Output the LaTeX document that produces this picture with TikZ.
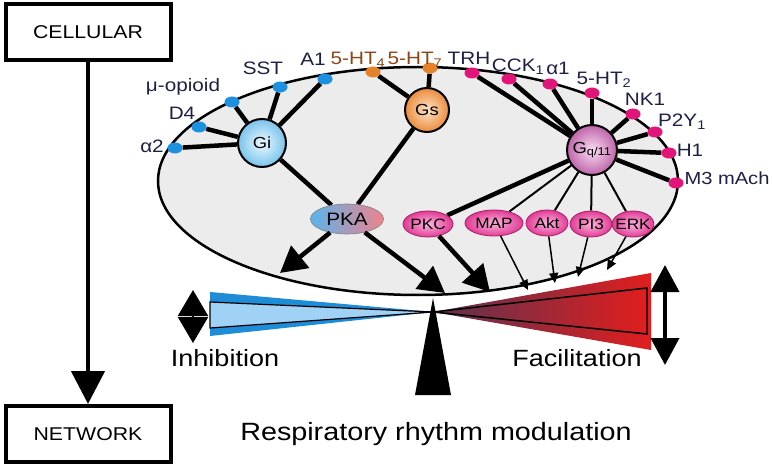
\documentclass[tikz,border=0pt]{standalone}
\usepackage{fontspec}
\setmainfont[FakeStretch=1.15]{Liberation Sans}
\usetikzlibrary{shapes.geometric,arrows.meta,backgrounds}

\definecolor{navy}{RGB}{30,30,70}
\definecolor{brownlab}{RGB}{140,70,20}
\definecolor{dotblue}{RGB}{30,144,224}
\definecolor{dotorange}{RGB}{230,130,40}
\definecolor{dotpink}{RGB}{225,20,120}
\definecolor{cellgray}{RGB}{236,236,236}
\definecolor{giblue}{RGB}{120,195,235}
\definecolor{gilight}{RGB}{238,249,255}
\definecolor{gsorange}{RGB}{235,140,60}
\definecolor{gslight}{RGB}{253,228,200}
\definecolor{gqpurple}{RGB}{190,100,170}
\definecolor{gqlight}{RGB}{250,222,242}
\definecolor{enzout}{RGB}{225,60,150}
\definecolor{enzin}{RGB}{250,180,218}
\definecolor{enzline}{RGB}{170,30,100}
\definecolor{pkablue}{RGB}{90,180,235}
\definecolor{pkapink}{RGB}{240,130,140}
\definecolor{inhdark}{RGB}{30,140,215}
\definecolor{inhlight}{RGB}{160,210,245}
\definecolor{facdark}{RGB}{90,50,80}
\definecolor{facred}{RGB}{225,30,30}

\begin{document}
\begin{tikzpicture}[x=1pt,y=-1pt,
    box/.style={draw,line width=4pt,minimum width=165pt,minimum height=56pt,inner sep=0pt,font=\fontsize{18.5}{20}\selectfont},
    rdot/.style={ellipse,minimum width=15pt,minimum height=11pt,inner sep=0pt},
    bdot/.style={rdot,fill=dotblue},
    odot/.style={rdot,fill=dotorange},
    pdot/.style={rdot,fill=dotpink},
    lab/.style={anchor=base,inner sep=0pt,text=navy,font=\fontsize{18}{20}\selectfont},
    gprot/.style={circle,draw,line width=2pt,inner sep=0pt,font=\fontsize{16}{18}\selectfont},
    enz/.style={ellipse,draw=enzline,line width=0.8pt,inner xsep=-3pt,inner ysep=0pt,minimum height=26pt,
      inner color=enzin,outer color=enzout,font=\fontsize{15}{16}\selectfont},
    bond/.style={line width=4.5pt},
    slimbond/.style={line width=2pt},
    bigarrow/.style={line width=4.5pt,-{Triangle[length=26pt,width=28pt]}},
    smallarrow/.style={line width=1.5pt,-{Triangle[length=10pt,width=9pt]}},
    tag/.style={anchor=base,inner sep=0pt,font=\fontsize{23.5}{26}\selectfont}
  ]
  \useasboundingbox (0,0) rectangle (772,468);

  \node[box] (cell) at (88,32) {CELLULAR};
  \node[box] (net) at (88,434) {NETWORK};
  \draw[line width=4.5pt,-{Triangle[length=33pt,width=33pt]}] (cell) -- (net);

  \node[bdot] (a2) at (175,148) {};
  \node[bdot] (d4) at (199,127) {};
  \node[bdot] (mu) at (232,102) {};
  \node[bdot] (sst) at (280,87) {};
  \node[bdot] (aone) at (325,79) {};
  \node[odot] (htfour) at (373,72) {};
  \node[odot] (htseven) at (430,68) {};
  \node[pdot] (trh) at (472,73) {};
  \node[pdot] (cck) at (509,79) {};
  \node[pdot] (alone) at (550,84) {};
  \node[pdot] (httwo) at (592,93) {};
  \node[pdot] (nkone) at (633,114) {};
  \node[pdot] (ptwoy) at (655,132) {};
  \node[pdot] (hone) at (669,153) {};
  \node[pdot] (mthree) at (676,183) {};

  \node[lab] (a2lab) at (152,153) {α2};
  \node[lab] (d4lab) at (182,120) {D4};
  \node[lab] (mulab) at (183,92) {μ-opioid};
  \node[lab] (sstlab) at (263,75) {SST};
  \node[lab] (aonelab) at (313,66) {A1};
  \node[lab,text=brownlab] (htfourlab) at (358,65) {5-HT\textsubscript{4}};
  \node[lab,text=brownlab] (htsevenlab) at (415,65) {5-HT\textsubscript{7}};
  \node[lab] (trhlab) at (469,65) {TRH};
  \node[lab] (ccklab) at (518,72) {CCK\textsubscript{1}};
  \node[lab] (alonelab) at (558,75) {α1};
  \node[lab] (httwolab) at (604,85) {5-HT\textsubscript{2}};
  \node[lab] (nkonelab) at (645,106) {NK1};
  \node[lab] (ptwoylab) at (682,127) {P2Y\textsubscript{1}};
  \node[lab] (honelab) at (690,157) {H1};
  \node[lab,font=\fontsize{17.5}{20}\selectfont] (mthreelab) at (727,185) {M3 mAch};

  \node[gprot,minimum size=48pt,inner color=gilight,outer color=giblue] (gi) at (262,143) {Gi};
  \node[gprot,minimum size=44pt,inner color=gslight,outer color=gsorange] (gs) at (427,110) {Gs};
  \node[gprot,minimum size=50pt,inner color=gqlight,outer color=gqpurple] (gq) at (592,150) {G\textsubscript{q/11}};

  \node[ellipse,draw=gray,line width=0.6pt,minimum width=73pt,minimum height=30pt,inner sep=0pt,
    left color=pkablue,right color=pkapink,font=\fontsize{18}{20}\selectfont] (pka) at (347,219) {PKA};
  \node[enz,minimum width=50pt] (pkc) at (428,224) {PKC};
  \node[enz,minimum width=58pt] (map) at (494,223) {MAP};
  \node[enz,minimum width=42pt] (akt) at (547,223) {Akt};
  \node[enz,minimum width=42pt] (pithree) at (591,224) {PI3};
  \node[enz,minimum width=40pt] (erk) at (633,224) {ERK};

  \begin{pgfonlayer}{background}
    \draw[line width=2.5pt,fill=cellgray] (418,181) ellipse [x radius=260pt,y radius=114pt];
    \path[bond]
    (gi) edge (a2) edge (d4) edge (mu) edge (sst) edge (aone) edge (pka)
    (gs) edge (htfour) edge (htseven) edge (pka)
    (gq) edge (trh) edge (cck) edge (alone) edge (httwo) edge (nkone)
         edge (ptwoy) edge (hone) edge (mthree) edge (pkc);
    \path[slimbond] (gq) edge (map) edge (akt) edge (pithree) edge (erk);
  \end{pgfonlayer}

  \coordinate (inhtip) at (280,273);
  \coordinate (midtip) at (445,293);
  \coordinate (pkctip) at (490,292);
  \coordinate (maptip) at (528,290);
  \coordinate (akttip) at (555,283);
  \coordinate (pitip) at (578,277);
  \coordinate (erktip) at (607,270);
  \path[bigarrow] (pka) edge (inhtip) (pka) edge (midtip) (pkc) edge (pkctip);
  \path[smallarrow] (map) edge (maptip) (akt) edge (akttip)
    (pithree) edge (pitip) (erk) edge (erktip);

  \coordinate (pivot) at (433,312);
  \fill[inhdark] (210,292) -- (pivot) -- (210,336) -- cycle;
  \filldraw[fill=inhlight,line width=1.2pt] (210,302) -- (pivot) -- (210,328) -- cycle;
  \shade[left color=facdark,right color=facred] (pivot) -- (651,273) -- (651,350) -- cycle;
  \shadedraw[left color=facdark,right color=facred,line width=1.5pt] (pivot) -- (647,288) -- (647,334) -- cycle;
  \fill (433,298) -- (451,395) -- (415,395) -- cycle;

  \coordinate (inhup) at (193,290);
  \coordinate (inhdown) at (193,343);
  \draw[line width=2pt,{Triangle[length=26pt,width=30pt]}-{Triangle[length=26pt,width=30pt]}] (inhup) -- (inhdown);
  \coordinate (facup) at (665,265);
  \coordinate (facdown) at (665,365);
  \draw[line width=4pt,{Triangle[length=27pt,width=28pt]}-{Triangle[length=27pt,width=28pt]}] (facup) -- (facdown);

  \node[tag] (inh) at (225,366) {Inhibition};
  \node[tag] (fac) at (577,366) {Facilitation};
  \node[anchor=base,inner sep=0pt,font=\fontsize{25}{28}\selectfont] (resp) at (436,440) {Respiratory rhythm modulation};
\end{tikzpicture}
\end{document}
